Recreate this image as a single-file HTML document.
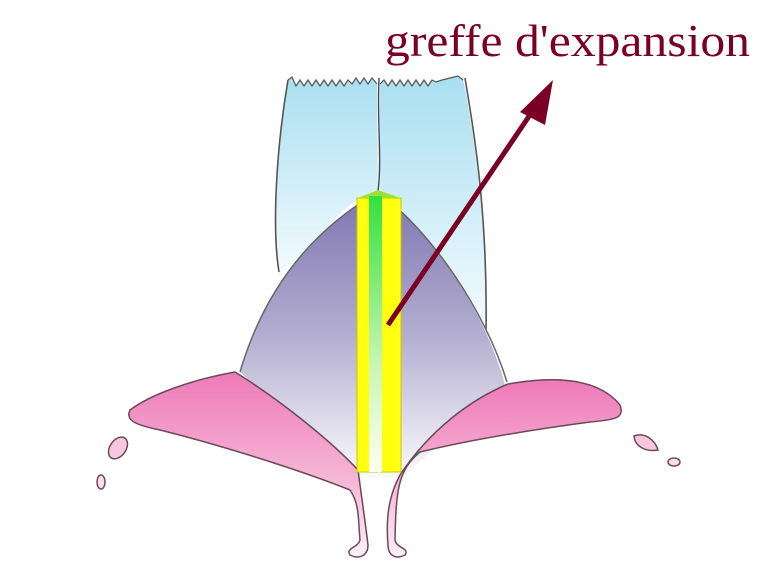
<!DOCTYPE html>
<html><head><style>
body{margin:0;background:#fff;}
svg{display:block}
</style></head><body>
<svg width="779" height="575" viewBox="0 0 779 575" xmlns="http://www.w3.org/2000/svg">
<defs>
<linearGradient id="blue" x1="0" y1="0" x2="0" y2="1">
<stop offset="0" stop-color="#a9dff0"/><stop offset="1" stop-color="#f4fbfe"/></linearGradient>
<linearGradient id="purp" x1="0" y1="0" x2="0" y2="1">
<stop offset="0" stop-color="#7e74b0"/><stop offset="0.5" stop-color="#b3aed0"/><stop offset="1" stop-color="#fafafd"/></linearGradient>
<linearGradient id="pink" x1="0" y1="0" x2="0" y2="1">
<stop offset="0" stop-color="#ee7ab8"/><stop offset="0.6" stop-color="#f6b8d8"/><stop offset="1" stop-color="#fdf0f6"/></linearGradient>
<linearGradient id="grn" x1="0" y1="0" x2="0" y2="1">
<stop offset="0" stop-color="#33e040"/><stop offset="0.6" stop-color="#c8f5b0"/><stop offset="1" stop-color="#fffff0"/></linearGradient>
</defs>
<path d="M288,80 L292,77 296,86 300,80 304,86 308,80 312,86 316,80 320,86 324,80 328,86 332,80 336,86 340,80 344,86 348,80 352,84 356,78 360,84 364,78 368,84 372,78 377,84 L378,192 C370,192 350,200 330,225 L279,275 C272,230 276,150 288,80 Z" fill="url(#blue)"/>
<path d="M380,84 L384,80 388,86 392,80 396,86 400,80 404,86 408,80 412,86 416,80 420,86 424,80 428,86 432,80 436,82 442,80 450,78 458,76 463,80 C470,110 485,200 488,330 L430,250 C410,220 395,196 380,192 Z" fill="url(#blue)"/>
<path d="M288,80 C276,150 272,230 279,272 M465,78 C470,110 488,200 486,330" fill="none" stroke="#555" stroke-width="1.6"/>
<path d="M288,80 L292,77 296,86 300,80 304,86 308,80 312,86 316,80 320,86 324,80 328,86 332,80 336,86 340,80 344,86 348,80 352,84 356,78 360,84 364,78 368,84 372,78 377,84 M380,84 L384,80 388,86 392,80 396,86 400,80 404,86 408,80 412,86 416,80 420,86 424,80 428,86 432,80 436,82 442,80 450,78 458,76 463,80" fill="none" stroke="#555" stroke-width="1.2"/>
<path d="M379,78 C377,120 382,160 378,192" fill="none" stroke="#445" stroke-width="1.4"/>
<path d="M378,192 C330,220 270,270 240,372 L355,478 L402,478 L505,385 C485,310 430,230 378,192 Z" fill="url(#purp)"/>
<path d="M240,372 C270,270 330,220 378,192 C430,230 485,310 507,382" fill="none" stroke="#666" stroke-width="1.5"/>
<path d="M235,372 C190,380 150,395 130,410 C125,420 135,425 160,430 C220,445 300,470 350,490 C360,505 358,520 360,540 C358,548 345,548 350,555 C360,560 368,555 368,545 C365,520 362,500 358,470 C330,440 280,400 235,372 Z" fill="url(#pink)" stroke="#6b4a58" stroke-width="1.5"/>
<path d="M508,384 C560,375 600,380 620,405 C625,418 615,420 590,422 C530,430 470,440 420,452 C398,470 396,490 395,540 C396,548 410,548 405,555 C395,560 388,555 388,545 C385,510 392,490 400,475 C430,430 470,400 508,384 Z" fill="url(#pink)" stroke="#6b4a58" stroke-width="1.5"/>
<ellipse cx="118" cy="448" rx="8" ry="12" transform="rotate(35 118 448)" fill="#f8c6de" stroke="#6b4a58" stroke-width="1.5"/>
<ellipse cx="101" cy="482" rx="4" ry="7" fill="#fde" stroke="#6b4a58" stroke-width="1.5"/>
<path d="M634,436 C645,432 655,440 658,450 C648,452 635,448 634,436 Z" fill="#f8c6de" stroke="#6b4a58" stroke-width="1.5"/>
<ellipse cx="674" cy="462" rx="6" ry="4" fill="#fde" stroke="#6b4a58" stroke-width="1.5"/>
<rect x="357" y="198" width="21" height="274" fill="#ffff10" stroke="#c8c800" stroke-width="1"/>
<rect x="380" y="198" width="21" height="274" fill="#ffff10" stroke="#c8c800" stroke-width="1"/>
<path d="M358,198 L378,190 L400,198 Z" fill="#9ee030"/>
<rect x="369" y="196" width="13" height="276" fill="url(#grn)"/>
<line x1="388" y1="325" x2="540" y2="100" stroke="#7a0024" stroke-width="5"/>
<polygon points="553,80 520,112 545,125" fill="#7a0024"/>
<text x="385" y="56" font-family="Liberation Serif, serif" font-size="46" fill="#7a0024" textLength="365" lengthAdjust="spacingAndGlyphs">greffe d'expansion</text>
</svg>
</body></html>
